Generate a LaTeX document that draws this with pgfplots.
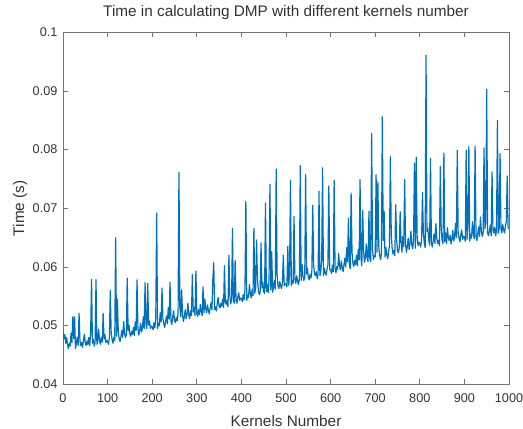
\documentclass[border=0pt]{standalone}
\usepackage{fontspec}
\setmainfont{Liberation Sans}
\usepackage{pgfplots}
\pgfplotsset{compat=1.18}
\usepackage{pgfplotstable}
\definecolor{mblue}{rgb}{0,0.447,0.741}
\definecolor{axgray}{gray}{0.45}
\definecolor{txtgray}{gray}{0.2}
\pgfplotstableread{
k t
0 0.0490
2 0.0478
4 0.0485
6 0.0470
8 0.0480
10 0.0468
12 0.0461
14 0.0470
16 0.0465
18 0.0487
20 0.0471
22 0.0515
24 0.0478
26 0.0515
28 0.0461
30 0.0470
32 0.0480
34 0.0466
36 0.0521
38 0.0474
40 0.0466
42 0.0471
44 0.0463
46 0.0476
48 0.0485
50 0.0470
52 0.0466
54 0.0474
56 0.0468
58 0.0480
60 0.0466
62 0.0488
64 0.0579
66 0.0470
68 0.0477
70 0.0465
72 0.0472
74 0.0578
76 0.0468
78 0.0475
80 0.0494
82 0.0474
84 0.0468
86 0.0480
88 0.0472
90 0.0521
92 0.0477
94 0.0485
96 0.0471
98 0.0475
100 0.0473
102 0.0468
104 0.0480
106 0.0560
108 0.0489
110 0.0476
112 0.0470
114 0.0480
116 0.0475
118 0.0650
120 0.0482
122 0.0545
124 0.0488
126 0.0478
128 0.0473
130 0.0482
132 0.0492
134 0.0480
136 0.0507
138 0.0487
140 0.0480
142 0.0484
144 0.0581
146 0.0491
148 0.0501
150 0.0485
152 0.0482
154 0.0490
156 0.0485
158 0.0497
160 0.0483
162 0.0506
164 0.0492
166 0.0578
168 0.0496
170 0.0484
172 0.0492
174 0.0504
176 0.0489
178 0.0496
180 0.0515
182 0.0495
184 0.0573
186 0.0502
188 0.0495
190 0.0572
192 0.0501
194 0.0508
196 0.0495
198 0.0499
200 0.0498
202 0.0493
204 0.0505
206 0.0496
208 0.0514
210 0.0692
212 0.0495
214 0.0504
216 0.0500
218 0.0522
220 0.0506
222 0.0564
224 0.0512
226 0.0503
228 0.0497
230 0.0507
232 0.0516
234 0.0503
236 0.0531
238 0.0511
240 0.0574
242 0.0508
244 0.0502
246 0.0515
248 0.0525
250 0.0509
252 0.0505
254 0.0514
256 0.0508
258 0.0521
260 0.0761
262 0.0530
264 0.0515
266 0.0561
268 0.0519
270 0.0507
272 0.0515
274 0.0527
276 0.0512
278 0.0519
280 0.0538
282 0.0518
284 0.0512
286 0.0525
288 0.0517
290 0.0587
292 0.0523
294 0.0531
296 0.0517
298 0.0593
300 0.0520
302 0.0516
304 0.0527
306 0.0519
308 0.0536
310 0.0524
312 0.0517
314 0.0566
316 0.0522
318 0.0545
320 0.0529
322 0.0522
324 0.0535
326 0.0526
328 0.0520
330 0.0530
332 0.0539
334 0.0527
336 0.0580
338 0.0607
340 0.0527
342 0.0532
344 0.0525
346 0.0539
348 0.0548
350 0.0533
352 0.0530
354 0.0538
356 0.0533
358 0.0545
360 0.0531
362 0.0602
364 0.0540
366 0.0536
368 0.0544
370 0.0532
372 0.0620
374 0.0552
376 0.0537
378 0.0544
380 0.0666
382 0.0543
384 0.0538
386 0.0611
388 0.0543
390 0.0538
392 0.0549
394 0.0556
396 0.0543
398 0.0547
400 0.0546
402 0.0541
404 0.0553
406 0.0544
408 0.0562
410 0.0712
412 0.0543
414 0.0552
416 0.0548
418 0.0570
420 0.0555
422 0.0547
424 0.0561
426 0.0551
428 0.0666
430 0.0555
432 0.0565
434 0.0646
436 0.0580
438 0.0560
440 0.0553
442 0.0557
444 0.0641
446 0.0564
448 0.0574
450 0.0558
452 0.0555
454 0.0709
456 0.0558
458 0.0570
460 0.0556
462 0.0579
464 0.0741
466 0.0561
468 0.0626
470 0.0557
472 0.0565
474 0.0577
476 0.0562
478 0.0767
480 0.0588
482 0.0568
484 0.0563
486 0.0575
488 0.0568
490 0.0563
492 0.0574
494 0.0620
496 0.0568
498 0.0572
500 0.0571
502 0.0566
504 0.0635
506 0.0569
508 0.0587
510 0.0748
512 0.0568
514 0.0577
516 0.0572
518 0.0686
520 0.0579
522 0.0572
524 0.0585
526 0.0576
528 0.0570
530 0.0580
532 0.0773
534 0.0577
536 0.0604
538 0.0584
540 0.0577
542 0.0581
544 0.0758
546 0.0588
548 0.0598
550 0.0582
552 0.0578
554 0.0587
556 0.0581
558 0.0594
560 0.0705
562 0.0603
564 0.0588
566 0.0585
568 0.0592
570 0.0580
572 0.0588
574 0.0729
576 0.0585
578 0.0592
580 0.0611
582 0.0769
584 0.0585
586 0.0598
588 0.0590
590 0.0586
592 0.0596
594 0.0604
596 0.0738
598 0.0595
600 0.0595
602 0.0589
604 0.0603
606 0.0592
608 0.0748
610 0.0598
612 0.0590
614 0.0601
616 0.0596
618 0.0623
620 0.0603
622 0.0595
624 0.0610
626 0.0599
628 0.0592
630 0.0604
632 0.0615
634 0.0600
636 0.0633
638 0.0609
640 0.0683
642 0.0605
644 0.0597
646 0.0726
648 0.0625
650 0.0606
652 0.0601
654 0.0611
656 0.0604
658 0.0620
660 0.0602
662 0.0630
664 0.0612
666 0.0749
668 0.0617
670 0.0602
672 0.0696
674 0.0626
676 0.0608
678 0.0616
680 0.0639
682 0.0615
684 0.0609
686 0.0695
688 0.0614
690 0.0609
692 0.0828
694 0.0630
696 0.0613
698 0.0619
700 0.0617
702 0.0757
704 0.0625
706 0.0745
708 0.0635
710 0.0620
712 0.0612
714 0.0623
716 0.0856
718 0.0645
720 0.0695
722 0.0617
724 0.0633
726 0.0621
728 0.0614
730 0.0626
732 0.0637
734 0.0788
736 0.0655
738 0.0632
740 0.0622
742 0.0628
744 0.0619
746 0.0706
748 0.0647
750 0.0628
752 0.0624
754 0.0633
756 0.0694
758 0.0642
760 0.0625
762 0.0652
764 0.0635
766 0.0749
768 0.0640
770 0.0625
772 0.0635
774 0.0649
776 0.0630
778 0.0639
780 0.0661
782 0.0638
784 0.0631
786 0.0646
788 0.0777
790 0.0632
792 0.0787
794 0.0653
796 0.0636
798 0.0642
800 0.0640
802 0.0634
804 0.0647
806 0.0727
808 0.0657
810 0.0642
812 0.0633
814 0.0961
816 0.0660
818 0.0666
820 0.0646
822 0.0637
824 0.0785
826 0.0641
828 0.0634
830 0.0645
832 0.0656
834 0.0640
836 0.0674
838 0.0650
840 0.0640
842 0.0645
844 0.0636
846 0.0771
848 0.0664
850 0.0645
852 0.0640
854 0.0794
856 0.0643
858 0.0658
860 0.0640
862 0.0667
864 0.0649
866 0.0645
868 0.0654
870 0.0639
872 0.0648
874 0.0662
876 0.0644
878 0.0652
880 0.0674
882 0.0650
884 0.0799
886 0.0658
888 0.0649
890 0.0643
892 0.0655
894 0.0663
896 0.0647
898 0.0652
900 0.0650
902 0.0644
904 0.0799
906 0.0647
908 0.0667
910 0.0805
912 0.0644
914 0.0655
916 0.0649
918 0.0677
920 0.0657
922 0.0648
924 0.0806
926 0.0652
928 0.0645
930 0.0657
932 0.0668
934 0.0652
936 0.0685
938 0.0662
940 0.0652
942 0.0657
944 0.0803
946 0.0665
948 0.0676
950 0.0903
952 0.0658
954 0.0653
956 0.0662
958 0.0671
960 0.0653
962 0.0762
964 0.0663
966 0.0658
968 0.0667
970 0.0653
972 0.0662
974 0.0850
976 0.0657
978 0.0666
980 0.0793
982 0.0664
984 0.0658
986 0.0672
988 0.0663
990 0.0658
992 0.0670
994 0.0678
996 0.0755
998 0.0667
1000 0.0665
}\datatable
\begin{document}
\begin{tikzpicture}
\begin{axis}[
  scale only axis,
  width=334.5pt, height=264pt,
  xmin=0, xmax=1000, ymin=0.04, ymax=0.1,
  xtick={0,100,200,300,400,500,600,700,800,900,1000},
  xticklabels={0,100,200,300,400,500,600,700,800,900,1000},
  ytick={0.04,0.05,0.06,0.07,0.08,0.09,0.1},
  yticklabels={0.04,0.05,0.06,0.07,0.08,0.09,0.1},
  scaled ticks=false,
  /pgf/number format/assume math mode=true,
  tick align=inside, tick pos=both,
  major tick length=3.75pt,
  axis line style={axgray, line width=0.6pt},
  every tick/.style={axgray, line width=0.5pt},
  tick label style={font=\fontsize{9.5}{11}\selectfont, text=txtgray},
  xticklabel style={anchor=base, yshift=-14pt},
  yticklabel style={anchor=east, inner sep=0pt, xshift=-4pt},
  title={Time in calculating DMP with different kernels number},
  title style={at={(rel axis cs:0.5,1.0227)}, anchor=base, font=\fontsize{11.5}{13}\selectfont, text=txtgray, inner sep=0pt},
  xlabel={Kernels Number},
  xlabel style={at={(rel axis cs:0.5,-0.119)}, anchor=base, font=\fontsize{11.5}{13}\selectfont, text=txtgray, inner sep=0pt},
  ylabel={Time (s)},
  ylabel style={at={(rel axis cs:-0.0874,0.5)}, anchor=base, font=\fontsize{11.5}{13}\selectfont, text=txtgray, inner sep=0pt},
]
\addplot[mblue, line width=0.9pt, mark=none, line join=round] table[x=k, y=t] {\datatable};
\coordinate (sw) at (rel axis cs:0,0);
\end{axis}
\pgfresetboundingbox
\path[use as bounding box] (sw) ++(-47.25pt,-32.8pt) rectangle ++(392.25pt,321pt);
\end{tikzpicture}
\end{document}
